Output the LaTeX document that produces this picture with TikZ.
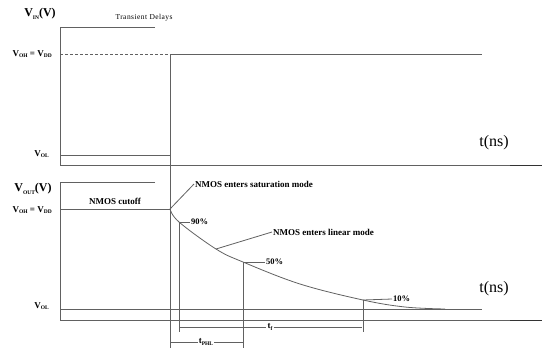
\documentclass[tikz,border=0pt]{standalone}
\usepackage{fontspec}
\setmainfont{Liberation Serif}
\newcommand\lsub[1]{\raisebox{-0.4ex}{\fontsize{5.5}{5.5}\selectfont #1}}
\begin{document}
\begin{tikzpicture}[x=1pt,y=-1pt,
  ln/.style={draw=black!62, line width=0.8pt},
  lbl/.style={font=\bfseries\fontsize{9}{10}\selectfont, inner sep=1pt},
  axlbl/.style={font=\bfseries\fontsize{12}{13}\selectfont, inner sep=1pt},
  tlbl/.style={font=\fontsize{16}{17}\selectfont, inner sep=1pt},
  pct/.style={font=\bfseries\fontsize{8.5}{9}\selectfont, inner sep=1pt, anchor=west}]
\useasboundingbox (0,0) rectangle (542,360);
% ---------- top panel ----------
\coordinate (ta) at (60,27);
\coordinate (tb) at (60,165);
\coordinate (tc) at (510,165);
\coordinate (td) at (542,165);
\coordinate (tt) at (155,27);
\draw[ln] (tt) -- (ta) -- (tb) -- (tc);
\draw[draw=black!80, line width=1pt] (tc) -- (td);
\coordinate (ohL) at (60,54);
\coordinate (ohM) at (170,54);
\coordinate (ohR) at (482,54);
\draw[ln, dashed, dash pattern=on 3pt off 2pt] (ohL) -- (ohM);
\draw[ln] (ohM) -- (ohR);
\coordinate (olL) at (60,155);
\coordinate (olR) at (170,155);
\draw[ln] (olL) -- (olR);
\coordinate (vb) at (170,348);
\draw[ln] (ohM) -- (vb);
\node[font=\fontsize{7.5}{8}\selectfont, anchor=west] (tdel) at (112,18) {\addfontfeature{LetterSpace=6}Transient Delays};
\node[axlbl] (vin) at (40,14) {V\lsub{IN}(V)};
\node[lbl, anchor=east] (voh1) at (53,54) {V\lsub{OH} = V\lsub{DD}};
\node[lbl, anchor=east] (vol1) at (50,154) {V\lsub{OL}};
\node[tlbl] (t1) at (494,143) {t(ns)};
% ---------- bottom panel ----------
\coordinate (ba) at (60,182);
\coordinate (bb) at (60,320);
\coordinate (bc) at (510,320);
\coordinate (bd) at (542,320);
\coordinate (bt) at (155,182);
\draw[ln] (bt) -- (ba) -- (bb) -- (bc);
\draw[draw=black!80, line width=1pt] (bc) -- (bd);
\coordinate (bohL) at (60,209);
\coordinate (bohR) at (170,209);
\draw[ln] (bohL) -- (bohR);
\coordinate (bolL) at (60,309);
\coordinate (bolR) at (482,309);
\draw[ln] (bolL) -- (bolR);
\node[axlbl] (vout) at (33,189) {V\lsub{OUT}(V)};
\node[lbl, anchor=east] (voh2) at (53,210) {V\lsub{OH} = V\lsub{DD}};
\node[lbl, anchor=east] (vol2) at (50,306) {V\lsub{OL}};
\node[tlbl] (t2) at (494,289) {t(ns)};
\node[lbl] (cut) at (115,201) {NMOS cutoff};
% curve
\coordinate (p90) at (179,222);
\coordinate (plin) at (216,249);
\coordinate (p50) at (243,262);
\coordinate (p10) at (363,300);
\draw[ln] plot[smooth, tension=0.6] coordinates {(170,209) (179,222) (216,249) (243,262) (300,284) (363,300) (405,307) (445,309)};
% markers
\coordinate (p90b) at (179,332);
\coordinate (p50b) at (243,348);
\coordinate (p10b) at (363,332);
\draw[ln] (p90) -- (p90b);
\draw[ln] (p50) -- (p50b);
\draw[ln] (p10) -- (p10b);
\node[pct] (l90) at (190,222) {90\%};
\node[pct] (l50) at (265,262) {50\%};
\node[pct] (l10) at (392,299) {10\%};
\draw[ln] (p90) -- (l90.west);
\draw[ln] (p50) -- (l50.west);
\draw[ln] (p10) -- (l10.west);
% mode labels
\node[lbl, anchor=west] (sat) at (194,184) {NMOS enters saturation mode};
\node[lbl, anchor=west] (lin) at (272,232) {NMOS enters linear mode};
\draw[ln] (bohR) -- (sat.west);
\draw[ln] (plin) -- (lin.west);
% dimensions
\coordinate (tfL) at (180,327);
\coordinate (tfR) at (362,327);
\node[lbl] (tf) at (270,327) {t\lsub{f}};
\draw[ln] (tfL) -- (tf.west);
\draw[ln] (tf.east) -- (tfR);
\coordinate (tpL) at (171,342);
\coordinate (tpR) at (243,342);
\node[lbl] (tp) at (206,342) {t\lsub{PHL}};
\draw[ln] (tpL) -- (tp.west);
\draw[ln] (tp.east) -- (tpR);
\end{tikzpicture}
\end{document}
